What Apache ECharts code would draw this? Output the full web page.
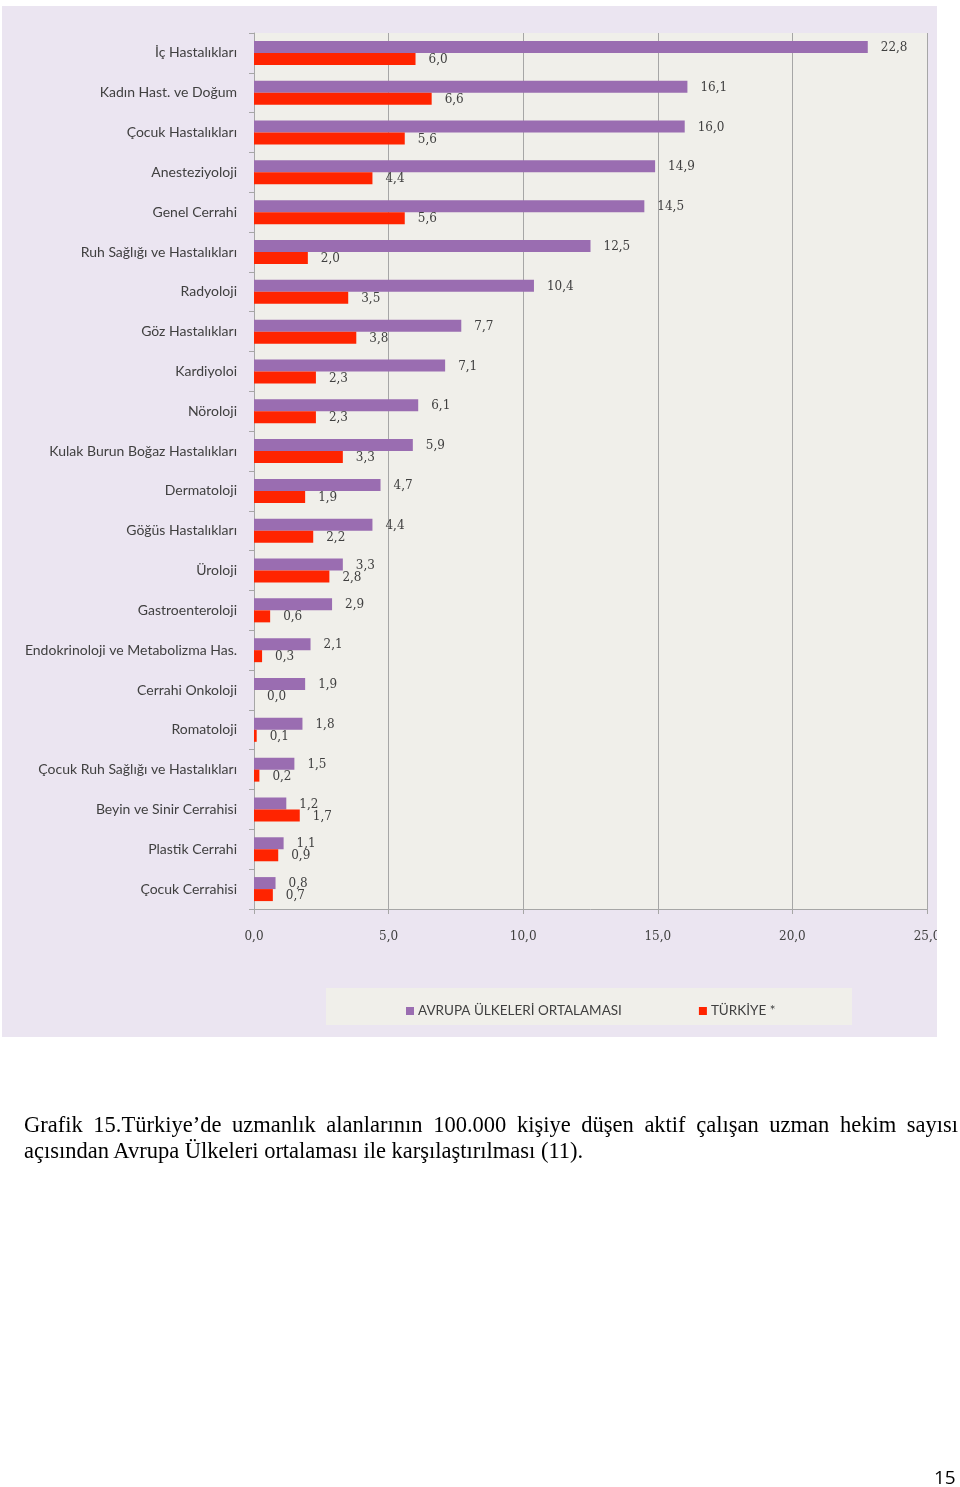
<!DOCTYPE html>
<html>
<head>
<meta charset="utf-8">
<script src="https://cdn.jsdelivr.net/npm/echarts@6/dist/echarts.min.js"></script>
<style>
  html, body { margin: 0; padding: 0; background: #fff; }
  #page { position: relative; width: 960px; height: 1487px; overflow: hidden; }
  #chart { position: absolute; left: 0; top: 0; width: 960px; height: 1487px; }
  .caption {
    position: absolute; left: 24px; width: 934px;
    font-family: "Liberation Serif", serif; font-size: 22.5px; line-height: 26px; color: #000;
    white-space: nowrap;
  }
  #cap1 { top: 1112px; text-align: justify; text-align-last: justify; white-space: normal; }
  #cap2 { top: 1138px; }
  #pageno {
    position: absolute; left: 934px; top: 1464px;
    font-family: "Open Sans", sans-serif; font-size: 19px; color: #000;
  }
</style>
</head>
<body>
<div id="page">
  <div id="chart"></div>
  <div class="caption" id="cap1">Grafik 15.Türkiye’de uzmanlık alanlarının 100.000 kişiye düşen aktif çalışan uzman hekim sayısı</div>
  <div class="caption" id="cap2">açısından Avrupa Ülkeleri ortalaması ile karşılaştırılması (11).</div>
  <div id="pageno">15</div>
</div>
<script>
// specialty names, top to bottom
const categories = [
  'İç Hastalıkları',
  'Kadın Hast. ve Doğum',
  'Çocuk Hastalıkları',
  'Anesteziyoloji',
  'Genel Cerrahi',
  'Ruh Sağlığı ve Hastalıkları',
  'Radyoloji',
  'Göz Hastalıkları',
  'Kardiyoloi',
  'Nöroloji',
  'Kulak Burun Boğaz Hastalıkları',
  'Dermatoloji',
  'Göğüs Hastalıkları',
  'Üroloji',
  'Gastroenteroloji',
  'Endokrinoloji ve Metabolizma Has.',
  'Cerrahi Onkoloji',
  'Romatoloji',
  'Çocuk Ruh Sağlığı ve Hastalıkları',
  'Beyin ve Sinir Cerrahisi',
  'Plastik Cerrahi',
  'Çocuk Cerrahisi'
];

// specialists per 100.000 people
const europeAvg = [22.8, 16.1, 16.0, 14.9, 14.5, 12.5, 10.4, 7.7, 7.1, 6.1, 5.9,
                   4.7, 4.4, 3.3, 2.9, 2.1, 1.9, 1.8, 1.5, 1.2, 1.1, 0.8];
const turkey    = [6.0, 6.6, 5.6, 4.4, 5.6, 2.0, 3.5, 3.8, 2.3, 2.3, 3.3,
                   1.9, 2.2, 2.8, 0.6, 0.3, 0.0, 0.1, 0.2, 1.7, 0.9, 0.7];

const seriesNames = ['AVRUPA ÜLKELERİ ORTALAMASI', 'TÜRKİYE *'];

const fmt = v => Number(v).toFixed(1).replace('.', ',');

const chart = echarts.init(document.getElementById('chart'));

const valueLabel = {
  show: true,
  position: 'right',
  distance: 13,
  offset: [0, 1],
  fontFamily: 'DejaVu Serif',
  fontSize: 12,
  color: '#404040',
  formatter: p => fmt(p.value)
};

const option = {
  animation: false,
  backgroundColor: '#ffffff',
  color: ['#9A6DB1', '#FF2400'],
  graphic: [
    {
      type: 'rect',
      z: -10,
      shape: { x: 2, y: 6, width: 935, height: 1031 },
      style: { fill: '#EBE5F1' }
    },
    {
      type: 'rect',
      z: -9,
      shape: { x: 326, y: 988, width: 526, height: 37 },
      style: { fill: '#F0EFEA' }
    },
    {
      // the chart frame clips the last tick label
      type: 'rect',
      z: 100,
      shape: { x: 937, y: 0, width: 23, height: 1040 },
      style: { fill: '#ffffff' }
    }
  ],
  legend: {
    data: seriesNames,
    left: 401,
    top: 999,
    itemWidth: 8,
    itemHeight: 8,
    itemGap: 77,
    icon: 'rect',
    textStyle: {
      fontFamily: 'Lato',
      fontSize: 13.5,
      color: '#404040',
      padding: [0, 0, 0, -1]
    }
  },
  grid: {
    left: 254,
    right: 33,
    top: 33,
    bottom: 578,
    show: true,
    backgroundColor: '#F0EFEA',
    borderWidth: 0
  },
  xAxis: {
    type: 'value',
    min: 0,
    max: 25,
    interval: 5,
    axisLine: { show: true, lineStyle: { color: '#A6A6A6' } },
    axisTick: { show: true, length: 5, lineStyle: { color: '#A6A6A6' } },
    splitLine: { show: true, lineStyle: { color: '#A6A6A6' } },
    axisLabel: {
      margin: 22,
      fontFamily: 'DejaVu Serif',
      fontSize: 12,
      color: '#404040',
      formatter: v => fmt(v)
    }
  },
  yAxis: {
    type: 'category',
    data: categories,
    inverse: true,
    axisLine: { show: true, lineStyle: { color: '#A6A6A6' } },
    axisTick: { show: true, length: 5, lineStyle: { color: '#A6A6A6' } },
    axisLabel: {
      margin: 17,
      fontFamily: 'Lato',
      fontSize: 14,
      color: '#404040'
    }
  },
  series: [
    {
      name: seriesNames[0],
      type: 'bar',
      data: europeAvg,
      barWidth: 12,
      barGap: '0%',
      label: valueLabel
    },
    {
      name: seriesNames[1],
      type: 'bar',
      data: turkey,
      barWidth: 12,
      barGap: '0%',
      label: valueLabel
    }
  ]
};

chart.setOption(option);
</script>
</body>
</html>
